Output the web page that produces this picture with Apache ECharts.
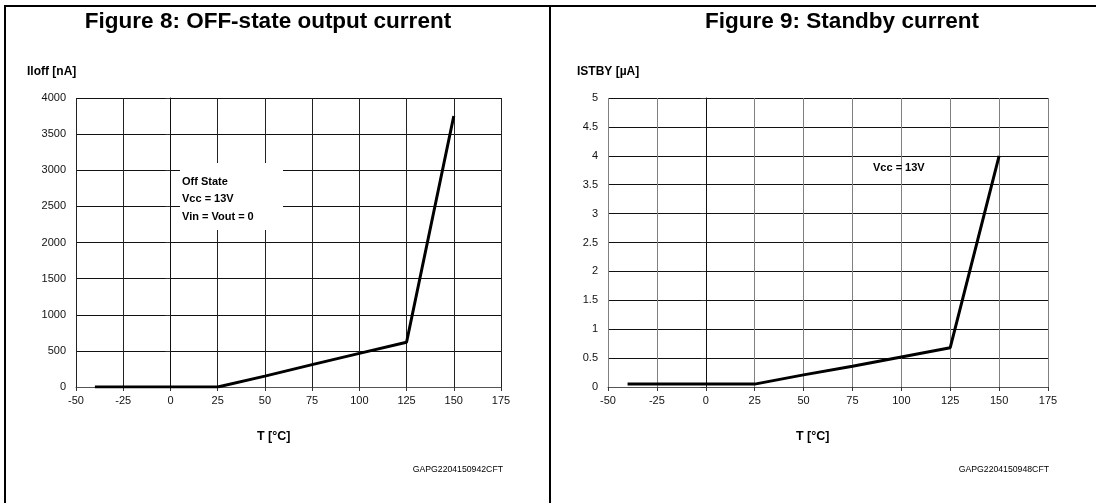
<!DOCTYPE html>
<html><head><meta charset="utf-8">
<script src="https://cdn.jsdelivr.net/npm/echarts@6/dist/echarts.min.js"></script>
<style>html,body{margin:0;padding:0;background:#fff}#c{width:1096px;height:503px}</style>
</head><body><div id="c"></div><script>
// ---- data ----
const offTemp = [-40, 25, 50, 75, 100, 125, 150];
const offCurrent = [0, 0, 150, 310, 465, 620, 3750];      // nA
const stbyTemp = [-40, 25, 50, 75, 100, 125, 150];
const stbyCurrent = [0.05, 0.05, 0.21, 0.36, 0.52, 0.68, 4.0]; // uA
const tempRange = [-50, 175, 25];
const offRange = [0, 4000, 500];
const stbyRange = [0, 5, 0.5];
const titles = ['Figure 8: OFF-state output current', 'Figure 9: Standby current'];
const yNames = ['Iloff [nA]', 'ISTBY [µA]'];
const xName = 'T [°C]';
const codes = ['GAPG2204150942CFT', 'GAPG2204150948CFT'];
const notes1 = ['Off State', 'Vcc = 13V', 'Vin = Vout = 0'];
const notes2 = ['Vcc = 13V'];

const FF = 'Liberation Sans, Arial, sans-serif';
const chart = echarts.init(document.getElementById('c'), null, {renderer: 'canvas'});

function xAx(gi, vColor) {
  return {
    type: 'value', gridIndex: gi, min: tempRange[0], max: tempRange[1], interval: tempRange[2],
    axisLine: {show: true, onZero: false, lineStyle: {color: '#555', width: 1}},
    axisTick: {show: true, length: 4, lineStyle: {color: '#333'}},
    axisLabel: {fontFamily: FF, fontSize: 11, color: '#111', margin: 8},
    splitLine: {show: true, lineStyle: {color: vColor, width: 1}}
  };
}
function yAx(gi, r) {
  return {
    type: 'value', gridIndex: gi, min: r[0], max: r[1], interval: r[2],
    axisLine: {show: true, lineStyle: {color: '#111', width: 1}},
    axisTick: {show: true, length: 5, lineStyle: {color: '#333'}},
    axisLabel: {fontFamily: FF, fontSize: 11, color: '#111', margin: 10, formatter: v => String(v)},
    splitLine: {show: true, lineStyle: {color: '#111', width: 1}}
  };
}

const graphics = [
  {type: 'line', z: 100, shape: {x1: 4, y1: 6, x2: 1096, y2: 6}, style: {stroke: '#000', lineWidth: 2}},
  {type: 'line', z: 100, shape: {x1: 5, y1: 5, x2: 5, y2: 503}, style: {stroke: '#000', lineWidth: 2}},
  {type: 'line', z: 100, shape: {x1: 550, y1: 5, x2: 550, y2: 503}, style: {stroke: '#000', lineWidth: 2}},
  {type: 'rect', z: 50, shape: {x: 180, y: 163, width: 103, height: 67}, style: {fill: '#fff'}},
  {type: 'text', z: 100, left: 182, top: 173, style: {text: notes1.join('\n'), font: 'bold 11px ' + FF, fill: '#000', lineHeight: 17.5}},
  {type: 'text', z: 100, left: 873, top: 162, style: {text: notes2[0], font: 'bold 11px ' + FF, fill: '#000'}},
  {type: 'text', z: 100, left: 27, top: 66, style: {text: yNames[0], font: 'bold 12px ' + FF, fill: '#000'}},
  {type: 'text', z: 100, left: 577, top: 66, style: {text: yNames[1], font: 'bold 12px ' + FF, fill: '#000'}},
  {type: 'text', z: 100, left: 257, top: 430, style: {text: xName, font: 'bold 12.5px ' + FF, fill: '#000'}},
  {type: 'text', z: 100, left: 796, top: 430, style: {text: xName, font: 'bold 12.5px ' + FF, fill: '#000'}},
  {type: 'text', z: 100, right: 1096 - 503, top: 465, style: {text: codes[0], font: '8.7px ' + FF, fill: '#000'}},
  {type: 'text', z: 100, right: 1096 - 1049, top: 465, style: {text: codes[1], font: '8.7px ' + FF, fill: '#000'}}
];

chart.setOption({
  animation: false,
  backgroundColor: '#fff',
  title: [
    {text: titles[0], left: 263, top: 5, textAlign: 'center', textStyle: {fontFamily: FF, fontSize: 22.5, fontWeight: 'bold', color: '#000'}},
    {text: titles[1], left: 837, top: 5, textAlign: 'center', textStyle: {fontFamily: FF, fontSize: 22.5, fontWeight: 'bold', color: '#000'}}
  ],
  grid: [
    {left: 76, top: 98, width: 425, height: 289},
    {left: 608, top: 98, width: 440, height: 289}
  ],
  xAxis: [xAx(0, '#222'), xAx(1, '#808080')],
  yAxis: [yAx(0, offRange), yAx(1, stbyRange)],
  series: [
    {type: 'line', xAxisIndex: 0, yAxisIndex: 0, showSymbol: false, z: 10,
     data: offTemp.map((t, i) => [t, offCurrent[i]]), lineStyle: {color: '#000', width: 3}},
    {type: 'line', xAxisIndex: 1, yAxisIndex: 1, showSymbol: false, z: 10,
     data: stbyTemp.map((t, i) => [t, stbyCurrent[i]]), lineStyle: {color: '#000', width: 3}}
  ],
  graphic: graphics
});
</script></body></html>
